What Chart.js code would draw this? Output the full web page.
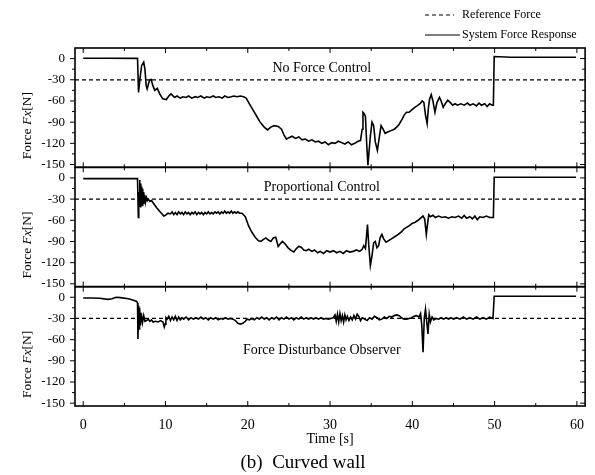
<!DOCTYPE html>
<html>
<head>
<meta charset="utf-8">
<script src="https://cdn.jsdelivr.net/npm/chart.js@4.4.0/dist/chart.umd.min.js"></script>
<style>
  body { margin: 0; background: #fff; }
</style>
</head>
<body>
<canvas id="forceChart" width="595" height="475"></canvas>
<script>
const xTicks = [0, 10, 20, 30, 40, 50, 60];
const yTicks = [0, -30, -60, -90, -120, -150];
const panelNames = ["No Force Control", "Proportional Control", "Force Disturbance Observer"];
const panelLabelY = [-14, -13, -75];
const refTime = [-1, 61];
const refForce = [-30, -30];

// [time s, force N]
const noControl = [
  [0, 0.5], [3, 0.5], [6.6, 0.3], [6.72, -48], [6.9, -28], [7.1, -10], [7.35, -5], [7.5, -15],
  [7.65, -38], [7.77, -43], [7.95, -35], [8.1, -30], [8.26, -29.5], [8.45, -38], [8.7, -45],
  [9.0, -42], [9.3, -50], [9.66, -57], [10.1, -58], [10.4, -53], [10.67, -50], [11.1, -55],
  [11.4, -53], [11.8, -56], [12.1, -54], [12.5, -55], [12.8, -53], [13.2, -56], [13.6, -54],
  [13.9, -55], [14.3, -53], [14.7, -56], [15.0, -54], [15.4, -55], [15.8, -53], [16.1, -55],
  [16.5, -54], [16.9, -56], [17.2, -53], [17.6, -55], [18.0, -54], [18.3, -53], [18.7, -54],
  [19.1, -53], [19.5, -54], [19.8, -56], [20.2, -64], [20.7, -74], [21.1, -82], [21.5, -90],
  [22.0, -97], [22.4, -101], [22.8, -97], [23.2, -95], [23.7, -96], [24.1, -100], [24.4, -108],
  [24.7, -114], [25.0, -112], [25.4, -110], [25.8, -113], [26.2, -111], [26.6, -115], [27.0, -114],
  [27.4, -117], [27.8, -115], [28.2, -118], [28.6, -117], [29.0, -120], [29.4, -118], [29.8, -122],
  [30.2, -119], [30.6, -120], [31.0, -117], [31.4, -119], [31.8, -121], [32.2, -118], [32.6, -122],
  [33.0, -120], [33.4, -117], [33.7, -116], [33.9, -100], [34.0, -76], [34.15, -78], [34.3, -82],
  [34.45, -120], [34.6, -151], [34.75, -130], [34.9, -110], [35.1, -90], [35.3, -95], [35.5, -118],
  [35.75, -130], [36.0, -110], [36.2, -95], [36.45, -100], [36.7, -106], [37.0, -104], [37.4, -102],
  [37.8, -100], [38.1, -97], [38.4, -93], [38.8, -85], [39.0, -80], [39.3, -76], [39.6, -76],
  [40.0, -72], [40.3, -69], [40.7, -66], [41.0, -63], [41.2, -60], [41.4, -62], [41.6, -80],
  [41.8, -92], [41.95, -70], [42.1, -57], [42.3, -51], [42.5, -60], [42.75, -76], [43.0, -62],
  [43.3, -55], [43.5, -60], [43.75, -69], [44.0, -64], [44.3, -59], [44.6, -62], [44.9, -66],
  [45.2, -64], [45.5, -66], [45.9, -64], [46.3, -66], [46.7, -63], [47.0, -66], [47.4, -64],
  [47.8, -67], [48.1, -63], [48.4, -66], [48.8, -64], [49.1, -68], [49.4, -64], [49.7, -66],
  [49.85, -66], [49.95, 3], [52, 2], [56, 2], [59.9, 2]
];

const proportional = [
  [0, -1], [3, -1], [6.6, -1], [6.7, -56], [6.75, -20], [6.8, -40], [6.85, -3], [6.9, -35],
  [6.95, -8], [7.0, -42], [7.05, -12], [7.1, -38], [7.15, -15], [7.2, -40], [7.25, -18],
  [7.3, -36], [7.35, -20], [7.4, -35], [7.45, -24], [7.5, -34], [7.55, -26], [7.6, -33],
  [7.7, -28], [7.8, -32], [7.9, -30], [8.1, -33], [8.3, -32], [8.6, -37], [8.9, -42], [9.2, -46],
  [9.5, -50], [9.8, -54], [10.0, -53], [10.3, -50], [10.6, -51], [10.8, -48], [11.0, -52],
  [11.2, -49], [11.4, -52], [11.6, -48], [11.8, -51], [12.0, -49], [12.2, -52], [12.4, -48],
  [12.6, -51], [12.8, -49], [13.0, -52], [13.2, -49], [13.4, -51], [13.6, -48], [13.8, -52],
  [14.0, -49], [14.2, -51], [14.4, -49], [14.6, -52], [14.8, -49], [15.0, -51], [15.2, -48],
  [15.4, -51], [15.6, -49], [15.8, -51], [16.0, -48], [16.2, -50], [16.4, -48], [16.6, -51],
  [16.8, -48], [17.0, -50], [17.2, -47], [17.4, -50], [17.6, -48], [17.8, -50], [18.0, -47],
  [18.2, -50], [18.4, -48], [18.6, -50], [18.8, -48], [19.0, -50], [19.3, -50], [19.7, -55],
  [20.1, -68], [20.5, -77], [20.9, -84], [21.3, -89], [21.6, -90], [21.9, -87], [22.2, -85],
  [22.5, -88], [22.8, -90], [23.1, -85], [23.4, -84], [23.7, -97], [23.9, -94], [24.2, -90],
  [24.5, -93], [24.9, -99], [25.3, -103], [25.6, -105], [25.9, -100], [26.2, -97], [26.5, -98],
  [26.8, -102], [27.1, -103], [27.4, -101], [27.8, -104], [28.1, -102], [28.5, -106], [28.8, -104],
  [29.2, -107], [29.6, -103], [30.0, -105], [30.4, -103], [30.8, -106], [31.2, -104], [31.6, -107],
  [32.0, -103], [32.4, -105], [32.8, -104], [33.2, -102], [33.6, -104], [33.9, -101], [34.1, -96],
  [34.3, -100], [34.45, -80], [34.55, -66], [34.7, -95], [34.9, -124], [35.1, -110], [35.3, -92],
  [35.5, -90], [35.7, -99], [35.9, -96], [36.1, -84], [36.3, -80], [36.5, -86], [36.8, -91],
  [37.1, -89], [37.5, -86], [37.9, -83], [38.3, -80], [38.7, -76], [39.0, -72], [39.3, -70],
  [39.7, -67], [40.0, -64], [40.3, -63], [40.7, -60], [41.0, -57], [41.3, -54], [41.5, -58],
  [41.7, -80], [41.85, -65], [42.0, -52], [42.2, -55], [42.5, -53], [42.8, -56], [43.2, -54],
  [43.6, -56], [44.0, -55], [44.4, -57], [44.8, -55], [45.2, -56], [45.6, -54], [46.0, -57],
  [46.3, -53], [46.6, -57], [47.0, -55], [47.3, -58], [47.6, -54], [47.9, -59], [48.2, -55],
  [48.6, -56], [49.0, -54], [49.4, -56], [49.85, -56], [49.95, 1], [54, 1], [59.9, 1]
];

const disturbanceObs = [
  [0, -1], [1, -1], [2, -1.5], [3, -3], [3.5, -2], [4, 0], [4.5, -0.5], [5.5, -2], [6.2, -4.5],
  [6.5, -6], [6.6, -8], [6.65, -59], [6.7, -30], [6.75, -12], [6.8, -45], [6.85, -15], [6.95, -40],
  [7.05, -22], [7.2, -36], [7.35, -26], [7.5, -34], [7.7, -33], [7.9, -31], [8.1, -34], [8.3, -32],
  [8.5, -35], [8.8, -34], [9.1, -35], [9.4, -33], [9.7, -35], [9.85, -42], [9.95, -38], [10.05, -29],
  [10.2, -31], [10.4, -27], [10.6, -33], [10.8, -28], [11.0, -32], [11.2, -27], [11.4, -33],
  [11.6, -28], [11.8, -32], [12.0, -29], [12.2, -31], [12.5, -28], [12.8, -32], [13.1, -29],
  [13.4, -31], [13.7, -29], [14.0, -31], [14.3, -28], [14.6, -31], [14.9, -29], [15.2, -32],
  [15.5, -29], [15.8, -31], [16.1, -29], [16.4, -32], [16.7, -30], [17.0, -31], [17.3, -29],
  [17.6, -31], [17.9, -30], [18.2, -31], [18.5, -33], [18.8, -37], [19.1, -38], [19.4, -37],
  [19.7, -34], [19.9, -31], [20.2, -32], [20.5, -30], [20.8, -32], [21.1, -29], [21.4, -31],
  [21.7, -28], [22.0, -31], [22.3, -29], [22.6, -32], [22.9, -29], [23.2, -31], [23.5, -28],
  [23.8, -32], [24.1, -29], [24.4, -31], [24.7, -28], [25.0, -31], [25.3, -29], [25.6, -32],
  [25.9, -29], [26.2, -31], [26.5, -28], [26.8, -31], [27.1, -29], [27.4, -31], [27.7, -29],
  [28.0, -31], [28.3, -29], [28.6, -31], [28.9, -29], [29.2, -31], [29.5, -30], [29.8, -31],
  [30.1, -30], [30.4, -29], [30.6, -25], [30.75, -34], [30.9, -24], [31.05, -35], [31.2, -23],
  [31.35, -33], [31.5, -26], [31.65, -35], [31.8, -25], [31.95, -32], [32.1, -27], [32.3, -33],
  [32.5, -28], [32.7, -32], [32.9, -26], [33.1, -31], [33.3, -24], [33.5, -27], [33.7, -33],
  [33.9, -29], [34.2, -31], [34.5, -33], [34.8, -29], [35.1, -31], [35.4, -27], [35.7, -29],
  [36.0, -32], [36.3, -31], [36.6, -28], [36.9, -30], [37.2, -27], [37.5, -28], [37.8, -26],
  [38.1, -25], [38.4, -26], [38.7, -29], [39.0, -31], [39.3, -31], [39.6, -30], [39.9, -29],
  [40.2, -27], [40.5, -26], [40.8, -28], [41.0, -23], [41.15, -40], [41.3, -78], [41.45, -30],
  [41.6, -17], [41.75, -35], [41.9, -52], [42.05, -24], [42.2, -35], [42.4, -28], [42.6, -32],
  [42.9, -30], [43.2, -31], [43.5, -29], [43.8, -31], [44.1, -29], [44.4, -31], [44.7, -29],
  [45.0, -31], [45.4, -29], [45.8, -31], [46.2, -28], [46.6, -31], [47.0, -29], [47.4, -31],
  [47.8, -28], [48.2, -31], [48.6, -29], [49.0, -31], [49.4, -28], [49.8, -30], [49.95, 1.5],
  [54, 1.5], [59.9, 1.5]
];

const responses = [noControl, proportional, disturbanceObs];
const panelAxes = ["y1", "y2", "y3"];
const serif = "'Liberation Serif', 'DejaVu Serif', serif";

const datasets = [];
panelAxes.forEach((axis, i) => {
  datasets.push({
    label: "Reference Force",
    data: refTime.map((t, k) => ({ x: t, y: refForce[k] })),
    yAxisID: axis,
    borderColor: "#000",
    borderWidth: 1.3,
    borderDash: [4, 3],
    pointRadius: 0,
  });
  datasets.push({
    label: "System Force Response",
    data: responses[i].map(p => ({ x: p[0], y: p[1] })),
    yAxisID: axis,
    borderColor: "#000",
    borderWidth: 1.6,
    pointRadius: 0,
    tension: 0,
  });
});

function yAxis() {
  return {
    type: "linear",
    position: "left",
    stack: "panels",
    stackWeight: 1,
    min: -154,
    max: 15,
    afterBuildTicks: s => { s.ticks = yTicks.map(v => ({ value: v })); },
    afterFit: s => { s.width = 75; },
    grid: { display: false, drawTicks: false },
    border: { display: false },
    ticks: { color: "#000", padding: 10, autoSkip: false, font: { family: serif, size: 13 } },
  };
}

// frame, inward ticks, panel labels, axis titles, legend
const decorations = {
  id: "decorations",
  afterDatasetsDraw(chart) {
    const { ctx, chartArea, scales } = chart;
    const x = scales.x;
    ctx.save();
    ctx.strokeStyle = "#000";
    ctx.fillStyle = "#000";
    panelAxes.forEach((id, i) => {
      const y = scales[id];
      ctx.lineWidth = 1.6;
      ctx.strokeRect(chartArea.left, y.top, chartArea.right - chartArea.left, y.bottom - y.top);
      ctx.lineWidth = 1;
      ctx.beginPath();
      for (let t = 0; t <= 60; t += 5) {
        const px = x.getPixelForValue(t);
        const len = t % 10 === 0 ? 5 : 3;
        ctx.moveTo(px, y.top); ctx.lineTo(px, y.top + len);
        ctx.moveTo(px, y.bottom); ctx.lineTo(px, y.bottom - len);
      }
      for (let v = 0; v >= -150; v -= 15) {
        const py = y.getPixelForValue(v);
        const len = v % 30 === 0 ? 5 : 3;
        ctx.moveTo(chartArea.left, py); ctx.lineTo(chartArea.left - len, py);
        ctx.moveTo(chartArea.right, py); ctx.lineTo(chartArea.right - len, py);
      }
      ctx.stroke();

      ctx.font = "14px " + serif;
      ctx.textAlign = "center";
      ctx.textBaseline = "middle";
      ctx.fillText(panelNames[i], x.getPixelForValue(29), y.getPixelForValue(panelLabelY[i]));

      // rotated "Force Fx[N]" with italic Fx
      const parts = [["Force ", ""], ["Fx", "italic "], ["[N]", ""]];
      ctx.save();
      ctx.translate(27, y.getPixelForValue(-95));
      ctx.rotate(-Math.PI / 2);
      ctx.textAlign = "left";
      let total = 0;
      parts.forEach(p => { ctx.font = p[1] + "13.5px " + serif; total += ctx.measureText(p[0]).width; });
      let cx = -total / 2;
      parts.forEach(p => {
        ctx.font = p[1] + "13.5px " + serif;
        ctx.fillText(p[0], cx, 0);
        cx += ctx.measureText(p[0]).width;
      });
      ctx.restore();
    });

    ctx.textAlign = "center";
    ctx.textBaseline = "middle";
    ctx.font = "14px " + serif;
    ctx.fillText("Time [s]", x.getPixelForValue(30), 439);
    ctx.font = "19px " + serif;
    ctx.fillText("(b)  Curved wall", 303, 463);

    ctx.lineWidth = 1.2;
    ctx.beginPath();
    ctx.setLineDash([4, 3]);
    ctx.moveTo(425, 15); ctx.lineTo(454, 15);
    ctx.stroke();
    ctx.setLineDash([]);
    ctx.beginPath();
    ctx.moveTo(425, 35); ctx.lineTo(460, 35);
    ctx.stroke();
    ctx.font = "12px " + serif;
    ctx.textAlign = "left";
    ctx.fillText("Reference Force", 462, 15);
    ctx.fillText("System Force Response", 462, 35);
    ctx.restore();
  }
};

new Chart(document.getElementById("forceChart"), {
  type: "line",
  data: { datasets },
  options: {
    responsive: false,
    animation: false,
    layout: { padding: { top: 48, right: 7, left: 0, bottom: 0 } },
    plugins: { legend: { display: false }, tooltip: { enabled: false } },
    scales: {
      x: {
        type: "linear",
        min: -1,
        max: 61,
        afterBuildTicks: s => { s.ticks = xTicks.map(v => ({ value: v })); },
        afterFit: s => { s.height = 69; },
        grid: { display: false, drawTicks: false },
        border: { display: false },
        ticks: { color: "#000", padding: 11, maxRotation: 0, font: { family: serif, size: 14 } },
      },
      // stacked left axes are laid out last-first, so the bottom panel comes first
      y3: yAxis(),
      y2: yAxis(),
      y1: yAxis(),
    },
  },
  plugins: [decorations],
});
</script>
</body>
</html>
